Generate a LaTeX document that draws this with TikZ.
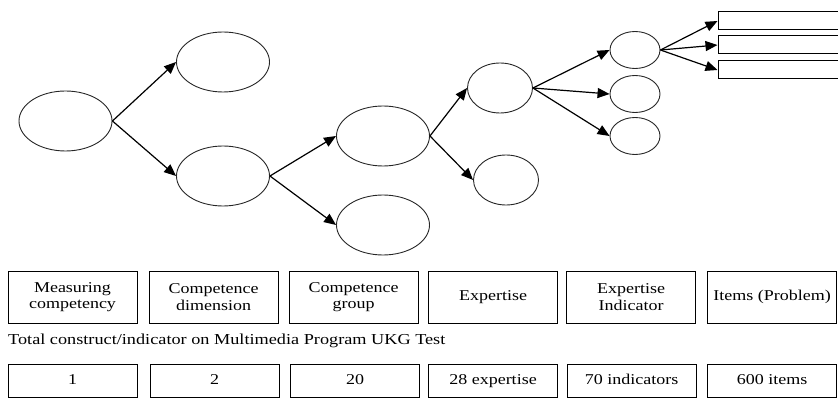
\documentclass[tikz,border=0pt]{standalone}
\usepackage{fontspec}
\setmainfont{Liberation Serif}[FakeStretch=1.2]
\usetikzlibrary{shapes.geometric,arrows.meta}

\begin{document}
\begin{tikzpicture}[
  x=1pt, y=-1pt,
  big/.style={ellipse, draw=black!85, line width=0.9pt,
    minimum width=93pt, minimum height=60pt, inner sep=0pt},
  mid/.style={ellipse, draw=black!85, line width=0.9pt,
    minimum width=65pt, minimum height=50pt, inner sep=0pt},
  small/.style={ellipse, draw=black!85, line width=0.9pt,
    minimum width=50pt, minimum height=37pt, inner sep=0pt},
  itembox/.style={draw, line width=1pt, minimum width=122pt,
    minimum height=18pt, inner sep=0pt},
  levelbox/.style={draw, line width=1pt, minimum width=129pt,
    minimum height=52pt, inner sep=0pt, align=center,
    font=\fontsize{15}{16.5}\selectfont},
  countbox/.style={draw, line width=1pt, minimum width=129pt,
    minimum height=33pt, inner sep=0pt, text height=10pt, text depth=3pt,
    font=\fontsize{15}{16.5}\selectfont},
  link/.style={-{Triangle[length=12pt,width=10pt]}, line width=1.2pt}]
  \useasboundingbox (0,0) rectangle (838,398);

  % tree
  \node[big] (root) at (65.5,121) {};
  \node[big] (dimA) at (223,62) {};
  \node[big] (dimB) at (223,176) {};
  \node[big] (grpA) at (383,136) {};
  \node[big] (grpB) at (383,225) {};
  \node[mid] (expA) at (500,88) {};
  \node[mid] (expB) at (506,180) {};
  \node[small] (indA) at (635,50) {};
  \node[small] (indB) at (635,94) {};
  \node[small] (indC) at (635,136) {};
  \node[itembox] (itemA) at (779,21) {};
  \node[itembox] (itemB) at (779,45) {};
  \node[itembox] (itemC) at (779,70) {};

  \draw[link] (root.east) -- (dimA.west);
  \draw[link] (root.east) -- (dimB.west);
  \draw[link] (dimB.east) -- (grpA.west);
  \draw[link] (dimB.east) -- (grpB.west);
  \draw[link] (grpA.east) -- (expA.west);
  \draw[link] (grpA.east) -- (expB.west);
  \draw[link] (expA.east) -- (indA.west);
  \draw[link] (expA.east) -- (indB.west);
  \draw[link] (expA.east) -- (indC.west);
  \draw[link] (indA.east) -- (itemA.west);
  \draw[link] (indA.east) -- (itemB.west);
  \draw[link] (indA.east) -- (itemC.west);

  % levels
  \node[levelbox] (lvMeasure) at (72.5,297) {Measuring\\competency};
  \node[levelbox] (lvDim) at (213.5,297) {Competence\\dimension};
  \node[levelbox] (lvGroup) at (353.5,297) {Competence\\group};
  \node[levelbox] (lvExp) at (493,297) {Expertise};
  \node[levelbox] (lvInd) at (631,297) {Expertise\\Indicator};
  \node[levelbox] (lvItem) at (772,297) {Items (Problem)};

  \node[anchor=west, inner sep=0pt, font=\fontsize{15.2}{16}\selectfont]
    (total) at (8,341) {Total construct/indicator on Multimedia Program UKG Test};

  % counts
  \node[countbox] (nMeasure) at (72.5,380.5) {1};
  \node[countbox] (nDim) at (214.5,380.5) {2};
  \node[countbox] (nGroup) at (355,380.5) {20};
  \node[countbox] (nExp) at (493,380.5) {28 expertise};
  \node[countbox] (nInd) at (631.5,380.5) {70 indicators};
  \node[countbox] (nItem) at (772,380.5) {600 items};
\end{tikzpicture}
\end{document}
